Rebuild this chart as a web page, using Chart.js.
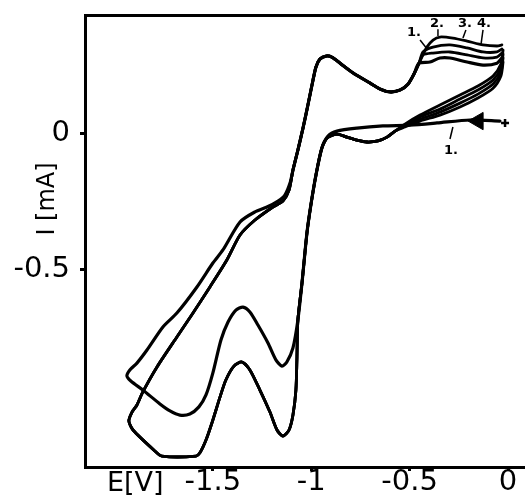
<!DOCTYPE html>
<html>
<head>
<meta charset="utf-8">
<script src="https://cdn.jsdelivr.net/npm/chart.js@4/dist/chart.umd.min.js"></script>
<style>
html,body{margin:0;padding:0;background:#fff;}
#wrap{width:525px;height:504px;}
</style>
</head>
<body>
<div id="wrap"><canvas id="c" width="525" height="504"></canvas></div>
<script>
// ---------- data (E in V, I in mA) ----------
// first scan: from the start point along the near-zero baseline
const baseE = [-0.041, -0.193, -0.361, -0.498, -0.636, -0.768, -0.869, -0.915];
const baseI = [0.044, 0.048, 0.037, 0.029, 0.026, 0.018, 0.007, -0.011];
// steep cathodic descent (shared by all cycles)
const descE = [-0.946, -0.976, -1.002, -1.022, -1.047, -1.068];
const descI = [-0.055, -0.154, -0.265, -0.368, -0.551, -0.688];
// lower loop A (first cycle) incl. vertex and return branch
const loopAE = [-1.093, -1.124, -1.149, -1.179, -1.220, -1.271, -1.312, -1.347, -1.383, -1.423, -1.459, -1.500, -1.535, -1.571, -1.617, -1.668, -1.718, -1.769, -1.856, -1.917, -1.937, -1.922, -1.886, -1.835, -1.754, -1.683, -1.581, -1.500, -1.449, -1.362, -1.286, -1.225, -1.169, -1.134, -1.108];
const loopAI = [-0.790, -0.842, -0.857, -0.835, -0.772, -0.706, -0.658, -0.640, -0.651, -0.695, -0.761, -0.882, -0.963, -1.007, -1.033, -1.037, -1.022, -0.996, -0.945, -0.912, -0.893, -0.871, -0.846, -0.798, -0.713, -0.662, -0.566, -0.478, -0.430, -0.327, -0.290, -0.272, -0.250, -0.228, -0.184];
// lower loop B (later cycles) incl. vertex and return branch
const loopBE = [-1.073, -1.078, -1.093, -1.113, -1.144, -1.174, -1.210, -1.261, -1.312, -1.352, -1.393, -1.434, -1.464, -1.500, -1.535, -1.566, -1.586, -1.759, -1.795, -1.906, -1.927, -1.911, -1.886, -1.856, -1.784, -1.683, -1.601, -1.515, -1.429, -1.362, -1.286, -1.195, -1.144, -1.113];
const loopBI = [-0.835, -0.945, -1.037, -1.092, -1.114, -1.092, -1.026, -0.945, -0.871, -0.842, -0.857, -0.908, -0.971, -1.055, -1.129, -1.176, -1.188, -1.188, -1.169, -1.092, -1.059, -1.026, -1.000, -0.952, -0.860, -0.750, -0.662, -0.566, -0.467, -0.375, -0.320, -0.272, -0.250, -0.210];
// anodic branch: rise, peak near -0.93 V, minimum near -0.6 V
const anoE = [-1.093, -1.068, -1.042, -1.017, -0.991, -0.976, -0.956, -0.925, -0.895, -0.854, -0.788, -0.702, -0.651, -0.600, -0.549, -0.508, -0.478, -0.452];
const anoI = [-0.136, -0.063, 0.018, 0.103, 0.195, 0.243, 0.272, 0.283, 0.279, 0.257, 0.221, 0.184, 0.162, 0.151, 0.158, 0.180, 0.217, 0.257];
// anodic peaks of cycles 1..4 near -0.35 V
const top1E = [-0.397, -0.346, -0.295, -0.208, -0.127, -0.056, -0.031];
const top1I = [0.261, 0.276, 0.276, 0.261, 0.250, 0.257, 0.276];
const top2E = [-0.432, -0.381, -0.295, -0.208, -0.127, -0.056, -0.031];
const top2I = [0.287, 0.294, 0.298, 0.287, 0.276, 0.279, 0.294];
const top3E = [-0.432, -0.381, -0.295, -0.208, -0.127, -0.056, -0.031];
const top3I = [0.298, 0.316, 0.324, 0.313, 0.298, 0.298, 0.309];
const top4E = [-0.412, -0.381, -0.346, -0.280, -0.208, -0.127, -0.056, -0.031];
const top4I = [0.316, 0.342, 0.353, 0.349, 0.338, 0.324, 0.320, 0.324];
// cathodic return from the positive vertex
const retE = [-0.025, -0.036, -0.076, -0.153, -0.244, -0.346, -0.447, -0.524];
const ret1I = [0.261, 0.210, 0.165, 0.129, 0.096, 0.066, 0.044, 0.022];
const ret2I = [0.276, 0.224, 0.180, 0.143, 0.110, 0.077, 0.051, 0.026];
const ret3I = [0.290, 0.239, 0.195, 0.158, 0.125, 0.088, 0.059, 0.029];
const ret4I = [0.305, 0.254, 0.210, 0.173, 0.140, 0.103, 0.066, 0.033];
// small dip near -0.65 V on later cycles
const dipE = [-0.574, -0.615, -0.661, -0.717, -0.768, -0.819, -0.869, -0.915];
const dipI = [0.007, -0.015, -0.029, -0.033, -0.026, -0.015, -0.004, -0.015];
// markers: scan-direction arrow and start point
const arrowE = [-0.152], arrowI = [0.044];
const startE = [-0.015], startI = [0.037];
// cycle labels and their leader lines
const labelText = ['1.', '2.', '3.', '4.', '1.'];
const labelE = [-0.478, -0.361, -0.219, -0.122, -0.290];
const labelI = [0.368, 0.401, 0.401, 0.401, -0.066];
const leadE0 = [-0.447, -0.356, -0.214, -0.127, -0.280];
const leadI0 = [0.342, 0.382, 0.379, 0.379, 0.022];
const leadE1 = [-0.407, -0.356, -0.229, -0.137, -0.295];
const leadI1 = [0.305, 0.357, 0.349, 0.327, -0.022];
// axes
const xTicks = [-1.5, -1, -0.5, 0];
const yTicks = [0, -0.5];
const xTitle = 'E[V]';
const yTitle = 'I [mA]';
const xMin = -2.150, xMax = 0.0864, yMin = -1.228, yMax = 0.434;

// ---------- build ----------
function pts(E, I) { return E.map((e, i) => ({x: e, y: I[i]})); }
function join(...segs) { return [].concat(...segs); }

const cycle1 = join(pts(baseE, baseI), pts(descE, descI), pts(loopAE, loopAI), pts(anoE, anoI), pts(top1E, top1I));
const cycle2 = join(pts(retE, ret1I), pts(dipE, dipI), pts(descE, descI), pts(loopBE, loopBI), pts(anoE, anoI), pts(top2E, top2I));
const cycle3 = join(pts(retE, ret2I), pts(dipE, dipI), pts(descE, descI), pts(loopBE, loopBI), pts(anoE, anoI), pts(top3E, top3I));
const cycle4 = join(pts(retE, ret3I), pts(dipE, dipI), pts(descE, descI), pts(loopBE, loopBI), pts(anoE, anoI), pts(top4E, top4I));
const cycle5 = join(pts(retE, ret4I), pts(dipE, dipI));

const lineDs = (data, w) => ({data, showLine: true, borderColor: '#000', borderWidth: w, pointRadius: 0, tension: 0.25, fill: false, borderJoinStyle: 'round', borderCapStyle: 'round'});

const FONT = '"DejaVu Sans", "Liberation Sans", sans-serif';

function noPad(s) { s.paddingTop = 0; s.paddingBottom = 0; s.paddingLeft = 0; s.paddingRight = 0; }

const decor = {
  id: 'decor',
  afterDatasetsDraw(chart) {
    const {ctx, scales: {x, y}} = chart;
    ctx.save();
    ctx.fillStyle = '#000';
    ctx.strokeStyle = '#000';
    ctx.lineWidth = 1.5;
    for (let i = 0; i < leadE0.length; i++) {
      ctx.beginPath();
      ctx.moveTo(x.getPixelForValue(leadE0[i]), y.getPixelForValue(leadI0[i]));
      ctx.lineTo(x.getPixelForValue(leadE1[i]), y.getPixelForValue(leadI1[i]));
      ctx.stroke();
    }
    ctx.font = 'bold 13px ' + FONT;
    ctx.textAlign = 'center';
    ctx.textBaseline = 'middle';
    labelText.forEach((t, i) => ctx.fillText(t, x.getPixelForValue(labelE[i]), y.getPixelForValue(labelI[i])));
    ctx.restore();
  },
  afterDraw(chart) {
    const {ctx, chartArea} = chart;
    ctx.save();
    ctx.fillStyle = '#000';
    ctx.font = '27px ' + FONT;
    ctx.textAlign = 'left';
    ctx.textBaseline = 'middle';
    ctx.fillText(xTitle, chartArea.left + 22, chartArea.bottom + 17);
    ctx.font = '24px ' + FONT;
    ctx.textAlign = 'center';
    ctx.translate(chartArea.left - 37, chartArea.top + 184);
    ctx.rotate(-Math.PI / 2);
    ctx.fillText(yTitle, 0, 0);
    ctx.restore();
  }
};

new Chart(document.getElementById('c'), {
  type: 'scatter',
  data: {
    datasets: [
      lineDs(cycle1, 3.2),
      lineDs(cycle2, 2.8),
      lineDs(cycle3, 2.8),
      lineDs(cycle4, 2.8),
      lineDs(cycle5, 2.8),
      {data: pts(arrowE, arrowI), pointStyle: 'triangle', rotation: 270, pointRadius: 10, backgroundColor: '#000', borderColor: '#000', borderWidth: 1, showLine: false},
      {data: pts(startE, startI), pointStyle: 'cross', pointRadius: 4, borderColor: '#000', borderWidth: 2.5, showLine: false}
    ]
  },
  options: {
    responsive: false,
    animation: false,
    devicePixelRatio: 1,
    layout: {padding: 0, autoPadding: false},
    plugins: {legend: {display: false}, tooltip: {enabled: false}},
    scales: {
      x: {
        type: 'linear', position: 'bottom', min: xMin, max: xMax,
        afterBuildTicks: s => { s.ticks = xTicks.map(v => ({value: v})); },
        afterFit: s => { s.height = 37; noPad(s); },
        grid: {drawOnChartArea: false, drawTicks: true, tickLength: 4, tickWidth: 3, tickColor: '#000', color: '#000'},
        border: {display: true, color: '#000', width: 3},
        ticks: {color: '#000', padding: 0, font: {family: FONT, size: 29, lineHeight: 0.8}, autoSkip: false, maxRotation: 0, callback: v => String(v)}
      },
      x2: {
        type: 'linear', position: 'top', min: xMin, max: xMax,
        afterFit: s => { s.height = 15; noPad(s); },
        grid: {drawOnChartArea: false, drawTicks: false},
        border: {display: true, color: '#000', width: 3},
        ticks: {display: false}
      },
      y: {
        type: 'linear', position: 'left', min: yMin, max: yMax,
        afterBuildTicks: s => { s.ticks = yTicks.map(v => ({value: v})); },
        afterFit: s => { s.width = 85; noPad(s); },
        grid: {drawOnChartArea: false, drawTicks: true, tickLength: 5, tickWidth: 3, tickColor: '#000', color: '#000'},
        border: {display: true, color: '#000', width: 3},
        ticks: {color: '#000', padding: 10, font: {family: FONT, size: 29, lineHeight: 1}, autoSkip: false, callback: v => String(v)}
      }
    }
  },
  plugins: [decor]
});
</script>
</body>
</html>
